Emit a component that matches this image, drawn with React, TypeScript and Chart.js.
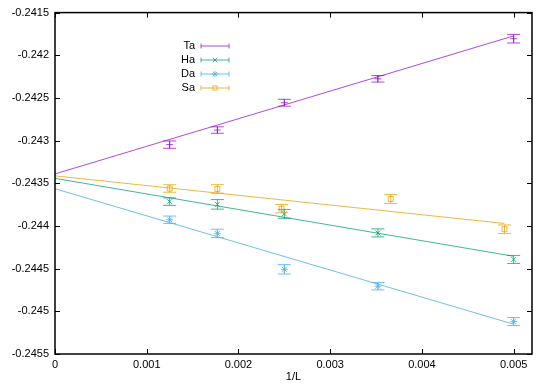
import React, { useEffect, useRef } from 'react';
import { Chart, registerables } from 'chart.js';

Chart.register(...registerables);

// ---- data ----
const xCommon = [0.00125, 0.00177, 0.0025, 0.00352, 0.005];
const taY = [-0.243047, -0.242876, -0.242556, -0.242276, -0.241806];
const taErr = [0.000043, 0.000038, 0.00004, 0.000038, 0.00005];
const haY = [-0.243715, -0.243747, -0.243858, -0.244081, -0.244392];
const haErr = [0.000044, 0.000056, 0.000052, 0.000047, 0.000047];
const daY = [-0.243927, -0.244087, -0.244508, -0.244706, -0.24512];
const daErr = [0.000043, 0.000049, 0.000055, 0.000043, 0.000047];
const saX = [0.00125, 0.00177, 0.00247, 0.00366, 0.0049];
const saY = [-0.243561, -0.243566, -0.243797, -0.243684, -0.244038];
const saErr = [0.000044, 0.00005, 0.000049, 0.000052, 0.00005];

const fitX = [0, 0.005];
const saFitX = [0, 0.0049];
const taFitY = [-0.24339, -0.241773];
const haFitY = [-0.243442, -0.244355];
const daFitY = [-0.243564, -0.245151];
const saFitY = [-0.243413, -0.243971];

const xTicks = [0, 0.001, 0.002, 0.003, 0.004, 0.005];
const yTicks = [-0.2455, -0.245, -0.2445, -0.244, -0.2435, -0.243, -0.2425, -0.242, -0.2415];

const seriesNames = ['Ta', 'Ha', 'Da', 'Sa'];
const colors = ['rgba(148,0,211,0.72)', 'rgba(0,158,115,0.75)', 'rgba(86,180,233,0.85)', 'rgba(230,159,0,0.75)'];
const pointStyles = ['cross', 'crossRot', 'star', 'rect'];

const FONT = "11px 'Liberation Sans', Arial, Helvetica, sans-serif";

const series = [
  { x: xCommon, y: taY, err: taErr, fx: fitX, fy: taFitY },
  { x: xCommon, y: haY, err: haErr, fx: fitX, fy: haFitY },
  { x: xCommon, y: daY, err: daErr, fx: fitX, fy: daFitY },
  { x: saX, y: saY, err: saErr, fx: saFitX, fy: saFitY },
];

function drawMarker(ctx: CanvasRenderingContext2D, style: string, x: number, y: number, r: number) {
  ctx.beginPath();
  if (style === 'star') {
    ctx.moveTo(x - r, y); ctx.lineTo(x + r, y);
    ctx.moveTo(x, y - r); ctx.lineTo(x, y + r);
  }
  if (style === 'crossRot' || style === 'star') {
    const d = r * 0.75;
    ctx.moveTo(x - d, y - d); ctx.lineTo(x + d, y + d);
    ctx.moveTo(x - d, y + d); ctx.lineTo(x + d, y - d);
  }
  if (style === 'rect') {
    ctx.rect(x - r * 0.7, y - r * 0.7, r * 1.4, r * 1.4);
  }
  ctx.stroke();
}

const framePlugin = {
  id: 'frame',
  afterDatasetsDraw(chart: any) {
    const { ctx, chartArea, scales } = chart;
    const xs = scales.x, ys = scales.y;
    ctx.save();
    ctx.beginPath();
    ctx.rect(chartArea.left, chartArea.top, chartArea.right - chartArea.left, chartArea.bottom - chartArea.top);
    ctx.clip();
    ctx.lineWidth = 1;
    series.forEach((s, i) => {
      ctx.strokeStyle = colors[i];
      s.x.forEach((xv, j) => {
        const px = xs.getPixelForValue(xv);
        const y1 = ys.getPixelForValue(s.y[j] + s.err[j]);
        const y2 = ys.getPixelForValue(s.y[j] - s.err[j]);
        ctx.beginPath();
        ctx.moveTo(px, y1); ctx.lineTo(px, y2);
        ctx.moveTo(px - 6.5, y1); ctx.lineTo(px + 6.5, y1);
        ctx.moveTo(px - 6.5, y2); ctx.lineTo(px + 6.5, y2);
        ctx.stroke();
      });
    });
    ctx.restore();
  },
  afterDraw(chart: any) {
    const { ctx, chartArea, scales } = chart;
    const { left, right, top, bottom } = chartArea;
    const xs = scales.x, ys = scales.y;
    ctx.save();
    ctx.strokeStyle = '#000';
    ctx.lineWidth = 1;
    ctx.beginPath();
    xTicks.forEach((v) => {
      const px = Math.round(xs.getPixelForValue(v)) + 0.5;
      ctx.moveTo(px, bottom); ctx.lineTo(px, bottom - 5);
      ctx.moveTo(px, top); ctx.lineTo(px, top + 5);
    });
    yTicks.forEach((v) => {
      const py = Math.round(ys.getPixelForValue(v)) + 0.5;
      ctx.moveTo(left, py); ctx.lineTo(left + 5, py);
      ctx.moveTo(right, py); ctx.lineTo(right - 5, py);
    });
    ctx.stroke();
    ctx.lineWidth = 1.5;
    ctx.strokeRect(left, top, right - left, bottom - top);
    ctx.fillStyle = '#000';
    ctx.font = FONT;
    ctx.textAlign = 'center';
    ctx.textBaseline = 'middle';
    ctx.fillText('1/L', (left + right) / 2, 377);
    const rowY = [46, 60, 74, 88];
    seriesNames.forEach((name, i) => {
      const y = rowY[i];
      ctx.fillStyle = '#000';
      ctx.textAlign = 'right';
      ctx.fillText(name, 195, y);
      ctx.strokeStyle = colors[i];
      ctx.lineWidth = 1;
      ctx.beginPath();
      ctx.moveTo(201, y); ctx.lineTo(229, y);
      ctx.moveTo(201, y - 2.5); ctx.lineTo(201, y + 2.5);
      ctx.moveTo(229, y - 2.5); ctx.lineTo(229, y + 2.5);
      ctx.stroke();
      drawMarker(ctx, pointStyles[i], 215, y, 3);
    });
    ctx.restore();
  },
};

export default function App() {
  const canvasRef = useRef<HTMLCanvasElement | null>(null);

  useEffect(() => {
    const datasets: any[] = [];
    series.forEach((s, i) => {
      datasets.push({
        type: 'line',
        label: seriesNames[i] + ' fit',
        data: s.fx.map((x, j) => ({ x, y: s.fy[j] })),
        borderColor: colors[i],
        borderWidth: 1,
        pointRadius: 0,
        fill: false,
      });
    });
    series.forEach((s, i) => {
      datasets.push({
        type: 'scatter',
        label: seriesNames[i],
        data: s.x.map((x, j) => ({ x, y: s.y[j] })),
        borderColor: colors[i],
        backgroundColor: 'rgba(0,0,0,0)',
        pointStyle: pointStyles[i],
        pointRadius: 3.5,
        borderWidth: 1,
        showLine: false,
      });
    });

    const chart = new Chart(canvasRef.current as HTMLCanvasElement, {
      type: 'scatter',
      data: { datasets },
      plugins: [framePlugin],
      options: {
        animation: false,
        responsive: true,
        maintainAspectRatio: false,
        devicePixelRatio: 1,
        layout: { padding: { top: 10, right: 18, left: 0, bottom: 0 } },
        plugins: { legend: { display: false }, tooltip: { enabled: false } },
        scales: {
          x: {
            type: 'linear',
            min: 0,
            max: 0.0052,
            grid: { display: false, drawTicks: false },
            border: { display: false },
            afterBuildTicks: (axis: any) => { axis.ticks = xTicks.map((v) => ({ value: v })); },
            afterFit: (axis: any) => { axis.height = 31; },
            ticks: {
              color: '#000',
              padding: 4,
              maxRotation: 0,
              font: { family: "'Liberation Sans', Arial, sans-serif", size: 11 },
              callback: (v: any) => String(Math.round(Number(v) * 1e4) / 1e4),
            },
          },
          y: {
            type: 'linear',
            min: -0.2455,
            max: -0.2415,
            grid: { display: false, drawTicks: false },
            border: { display: false },
            afterBuildTicks: (axis: any) => { axis.ticks = yTicks.map((v) => ({ value: v })); },
            afterFit: (axis: any) => { axis.width = 55; },
            ticks: {
              color: '#000',
              padding: 6,
              font: { family: "'Liberation Sans', Arial, sans-serif", size: 11 },
              callback: (v: any) => String(Math.round(Number(v) * 1e5) / 1e5),
            },
          },
        },
      } as any,
    });
    return () => chart.destroy();
  }, []);

  return (
    <div style={{ position: 'fixed', left: 0, top: 0, width: 550, height: 385, background: '#fff' }}>
      <canvas ref={canvasRef} />
    </div>
  );
}
